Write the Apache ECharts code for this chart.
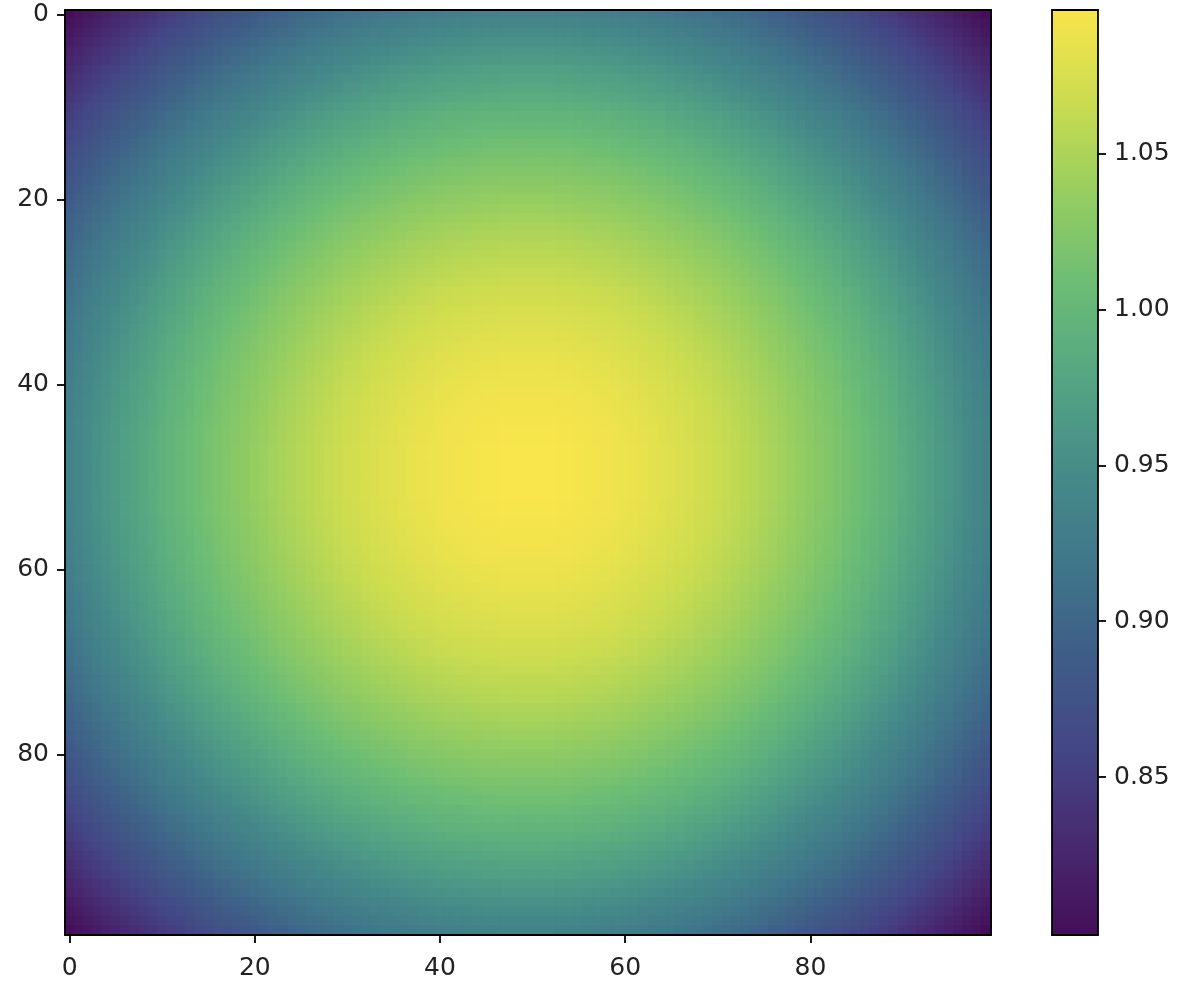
<!DOCTYPE html>
<html>
<head>
<meta charset="utf-8">
<script src="https://cdn.jsdelivr.net/npm/echarts@6/dist/echarts.min.js"></script>
<style>
html,body{margin:0;padding:0;background:#fff}
#chart{width:1193px;height:994px}
</style>
</head>
<body>
<div id="chart"></div>
<script>
// values read along the middle row (left -> right) and middle column (top -> bottom)
var midRow = [
    0.936,0.942,0.948,0.954,0.960,0.965,0.971,0.976,0.981,0.986,
    0.992,0.997,1.001,1.006,1.011,1.015,1.020,1.024,1.028,1.032,
    1.036,1.040,1.044,1.048,1.051,1.055,1.058,1.061,1.064,1.067,
    1.070,1.072,1.075,1.077,1.079,1.081,1.083,1.085,1.087,1.088,
    1.090,1.091,1.092,1.093,1.094,1.095,1.095,1.096,1.096,1.096,
    1.096,1.096,1.096,1.095,1.095,1.094,1.093,1.092,1.091,1.090,
    1.088,1.087,1.085,1.083,1.081,1.079,1.077,1.075,1.072,1.070,
    1.067,1.064,1.061,1.058,1.055,1.051,1.048,1.044,1.040,1.036,
    1.032,1.028,1.024,1.020,1.015,1.011,1.006,1.001,0.997,0.992,
    0.986,0.981,0.976,0.971,0.965,0.960,0.954,0.948,0.942,0.936
];
var midCol = [
    0.936,0.942,0.948,0.954,0.960,0.965,0.971,0.976,0.981,0.986,
    0.992,0.997,1.001,1.006,1.011,1.015,1.020,1.024,1.028,1.032,
    1.036,1.040,1.044,1.048,1.051,1.055,1.058,1.061,1.064,1.067,
    1.070,1.072,1.075,1.077,1.079,1.081,1.083,1.085,1.087,1.088,
    1.090,1.091,1.092,1.093,1.094,1.095,1.095,1.096,1.096,1.096,
    1.096,1.096,1.096,1.095,1.095,1.094,1.093,1.092,1.091,1.090,
    1.088,1.087,1.085,1.083,1.081,1.079,1.077,1.075,1.072,1.070,
    1.067,1.064,1.061,1.058,1.055,1.051,1.048,1.044,1.040,1.036,
    1.032,1.028,1.024,1.020,1.015,1.011,1.006,1.001,0.997,0.992,
    0.986,0.981,0.976,0.971,0.965,0.960,0.954,0.948,0.942,0.936
];
var xTicks = [0, 20, 40, 60, 80];
var yTicks = [0, 20, 40, 60, 80];
var cbTicks = [0.85, 0.90, 0.95, 1.00, 1.05];

// viridis-like ramp as it shows in the picture (a bit washed out)
var ramp = ['#440f58','#482a70','#444685','#3f5d87','#40768a','#468b89',
    '#54a583','#6bbc76','#95cd61','#cadc50','#f9e54c'];

// the field is the product of the two profiles (separable), scaled by the peak
var peak = Math.max.apply(null, midRow);
var xCats = midRow.map(function(v, i){ return String(i); });
var yCats = midCol.map(function(v, i){ return String(i); });
var vals = [];
var vmin = Infinity, vmax = -Infinity;
for (var y = 0; y < midCol.length; y++) {
    for (var x = 0; x < midRow.length; x++) {
        var v = midRow[x] * midCol[y] / peak;
        vals.push([x, y, v]);
        if (v < vmin) vmin = v;
        if (v > vmax) vmax = v;
    }
}
// stroke each cell with its own colour so no seams show between cells
var cells = vals.map(function(d){
    var c = echarts.color.lerp((d[2] - vmin) / (vmax - vmin), ramp);
    return {value: d, itemStyle: {borderColor: c, borderWidth: 1}};
});

var txt = {fontFamily: 'DejaVu Sans', fontSize: 25, color: '#222'};
var frame = {show: true, onZero: false, lineStyle: {color: '#000', width: 1.8}};
var tickStyle = {color: '#000', width: 1.8};

function plainAxis(extra){
    var a = {
        axisLine: frame,
        axisTick: {show: false},
        axisLabel: {show: false},
        splitLine: {show: false},
        z: 10
    };
    for (var k in extra) a[k] = extra[k];
    return a;
}

var chart = echarts.init(document.getElementById('chart'));
chart.setOption({
    animation: false,
    backgroundColor: '#fff',
    grid: [
        {left: 65, top: 10, width: 926, height: 925},
        {left: 1052, top: 10, width: 46, height: 925}
    ],
    xAxis: [
        {
            gridIndex: 0, type: 'category', data: xCats, position: 'bottom',
            axisLine: frame,
            axisTick: {show: true, alignWithLabel: true, length: 8, lineStyle: tickStyle,
                interval: function(i){ return xTicks.indexOf(i) >= 0; }},
            axisLabel: Object.assign({margin: 21,
                interval: function(i){ return xTicks.indexOf(i) >= 0; }}, txt),
            splitLine: {show: false},
            z: 10
        },
        plainAxis({gridIndex: 0, type: 'category', data: xCats, position: 'top'}),
        plainAxis({gridIndex: 1, type: 'value', min: 0, max: 1, position: 'bottom'}),
        plainAxis({gridIndex: 1, type: 'value', min: 0, max: 1, position: 'top'})
    ],
    yAxis: [
        {
            gridIndex: 0, type: 'category', data: yCats, inverse: true, position: 'left',
            axisLine: frame,
            axisTick: {show: true, alignWithLabel: true, length: 8, lineStyle: tickStyle,
                interval: function(i){ return yTicks.indexOf(i) >= 0; }},
            axisLabel: Object.assign({margin: 16,
                interval: function(i){ return yTicks.indexOf(i) >= 0; }}, txt),
            splitLine: {show: false},
            z: 10
        },
        plainAxis({gridIndex: 0, type: 'category', data: yCats, inverse: true, position: 'right'}),
        {
            gridIndex: 1, type: 'value', min: vmin, max: vmax, position: 'right',
            axisLine: frame,
            axisTick: {show: true, length: 8, lineStyle: tickStyle, customValues: cbTicks},
            axisLabel: Object.assign({margin: 16, customValues: cbTicks,
                formatter: function(v){ return v.toFixed(2); }}, txt),
            splitLine: {show: false},
            z: 10
        },
        plainAxis({gridIndex: 1, type: 'value', min: 0, max: 1, position: 'left'})
    ],
    visualMap: {
        type: 'continuous',
        seriesIndex: 0,
        min: vmin,
        max: vmax,
        inRange: {color: ramp},
        left: 1052,
        top: 10,
        itemWidth: 46,
        itemHeight: 925,
        padding: 0,
        calculable: false,
        hoverLink: false,
        text: null
    },
    series: [{
        type: 'heatmap',
        xAxisIndex: 0,
        yAxisIndex: 0,
        data: cells,
        progressive: 0,
        emphasis: {disabled: true}
    }]
});
</script>
</body>
</html>
